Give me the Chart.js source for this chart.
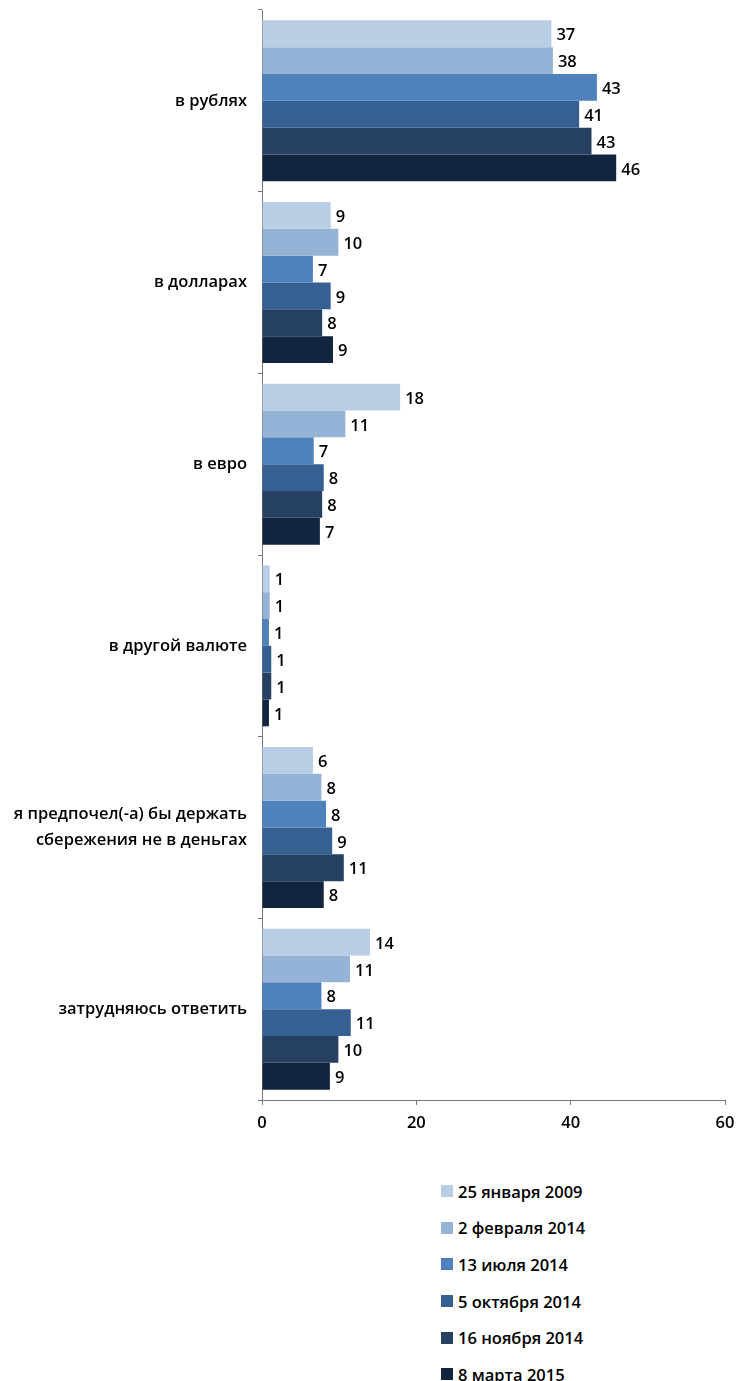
<!DOCTYPE html>
<html><head><meta charset="utf-8">
<script src="https://cdn.jsdelivr.net/npm/chart.js@4/dist/chart.umd.min.js"></script>
<style>
html,body{margin:0;padding:0;background:#fff;}
#wrap{position:relative;width:737px;height:1381px;overflow:hidden;}
#c{position:absolute;left:0;top:0;}
#legend{position:absolute;left:441px;top:1173px;font-family:"Open Sans",sans-serif;font-size:16.5px;font-weight:600;color:#000;}
.li{height:36.6px;display:flex;align-items:center;}
.sw{width:12px;height:12px;margin-right:5px;display:inline-block;}
</style></head><body>
<div id="wrap"><canvas id="c" width="737" height="1160"></canvas><div id="legend"></div></div>
<script>
const categories = ["в рублях","в долларах","в евро","в другой валюте",["я предпочел(-а) бы держать","сбережения не в деньгах"],"затрудняюсь ответить"];
const seriesNames = ["25 января 2009","2 февраля 2014","13 июля 2014","5 октября 2014","16 ноября 2014","8 марта 2015"];
const seriesColors = ["#b9cde5","#95b3d7","#4f81bd","#376092","#254061","#12253f"];
const jan2009 = [37.5, 8.9, 17.9, 1.0, 6.6, 14.0];
const feb2014 = [37.7, 9.9, 10.8, 1.0, 7.7, 11.4];
const jul2014 = [43.4, 6.6, 6.7, 0.9, 8.3, 7.7];
const oct2014 = [41.1, 8.9, 8.0, 1.2, 9.1, 11.5];
const nov2014 = [42.7, 7.8, 7.8, 1.2, 10.6, 9.9];
const mar2015 = [45.9, 9.2, 7.5, 0.9, 8.0, 8.8];
const labels2009 = [37, 9, 18, 1, 6, 14];
const labelsFeb14 = [38, 10, 11, 1, 8, 11];
const labelsJul14 = [43, 7, 7, 1, 8, 8];
const labelsOct14 = [41, 9, 8, 1, 9, 11];
const labelsNov14 = [43, 8, 8, 1, 11, 10];
const labelsMar15 = [46, 9, 7, 1, 8, 9];
const xTicks = [0, 20, 40, 60];

const seriesData = [jan2009, feb2014, jul2014, oct2014, nov2014, mar2015];
const seriesLabels = [labels2009, labelsFeb14, labelsJul14, labelsOct14, labelsNov14, labelsMar15];
const FONT = '"Open Sans", sans-serif';

const valueLabels = {
  id: 'valueLabels',
  afterDatasetsDraw(chart) {
    const ctx = chart.ctx;
    ctx.save();
    ctx.font = '600 16.5px ' + FONT;
    ctx.fillStyle = '#000';
    ctx.textBaseline = 'middle';
    ctx.textAlign = 'left';
    chart.data.datasets.forEach((ds, i) => {
      chart.getDatasetMeta(i).data.forEach((bar, j) => {
        ctx.fillText(String(seriesLabels[i][j]), bar.x + 5, bar.y + 2);
      });
    });
    ctx.restore();
  }
};

new Chart(document.getElementById('c'), {
  type: 'bar',
  data: {
    labels: categories,
    datasets: seriesNames.map((n, i) => ({
      label: n, data: seriesData[i], backgroundColor: seriesColors[i],
      borderWidth: 0, categoryPercentage: 0.886, barPercentage: 1.0
    }))
  },
  options: {
    indexAxis: 'y',
    responsive: false,
    animation: false,
    layout: { padding: { left: 0, right: 12, top: 10, bottom: 20 } },
    plugins: { legend: { display: false }, tooltip: { enabled: false } },
    scales: {
      x: {
        min: 0, max: 60,
        afterBuildTicks(s) { s.ticks = xTicks.map(v => ({ value: v })); },
        afterFit(s) { s.height = 40; s.paddingLeft = 0; s.paddingRight = 0; },
        grid: { drawOnChartArea: false, drawTicks: true, tickLength: 5, color: '#777' },
        border: { color: '#777', width: 1 },
        ticks: { font: { family: FONT, size: 16.5, weight: 600 }, color: '#000', padding: 8, maxRotation: 0 }
      },
      y: {
        afterFit(s) { s.width = 262; s.paddingTop = 0; s.paddingBottom = 0; },
        grid: { offset: true, drawOnChartArea: false, tickLength: 4, color: '#777' },
        border: { color: '#777', width: 1 },
        ticks: { font: { family: FONT, size: 16.5, weight: 600, lineHeight: 1.6 }, color: '#000', padding: 11 }
      }
    }
  },
  plugins: [valueLabels]
});

const lg = document.getElementById('legend');
seriesNames.forEach((n, i) => {
  const d = document.createElement('div'); d.className = 'li';
  d.innerHTML = '<span class="sw" style="background:' + seriesColors[i] + '"></span><span>' + n + '</span>';
  lg.appendChild(d);
});
</script></body></html>
